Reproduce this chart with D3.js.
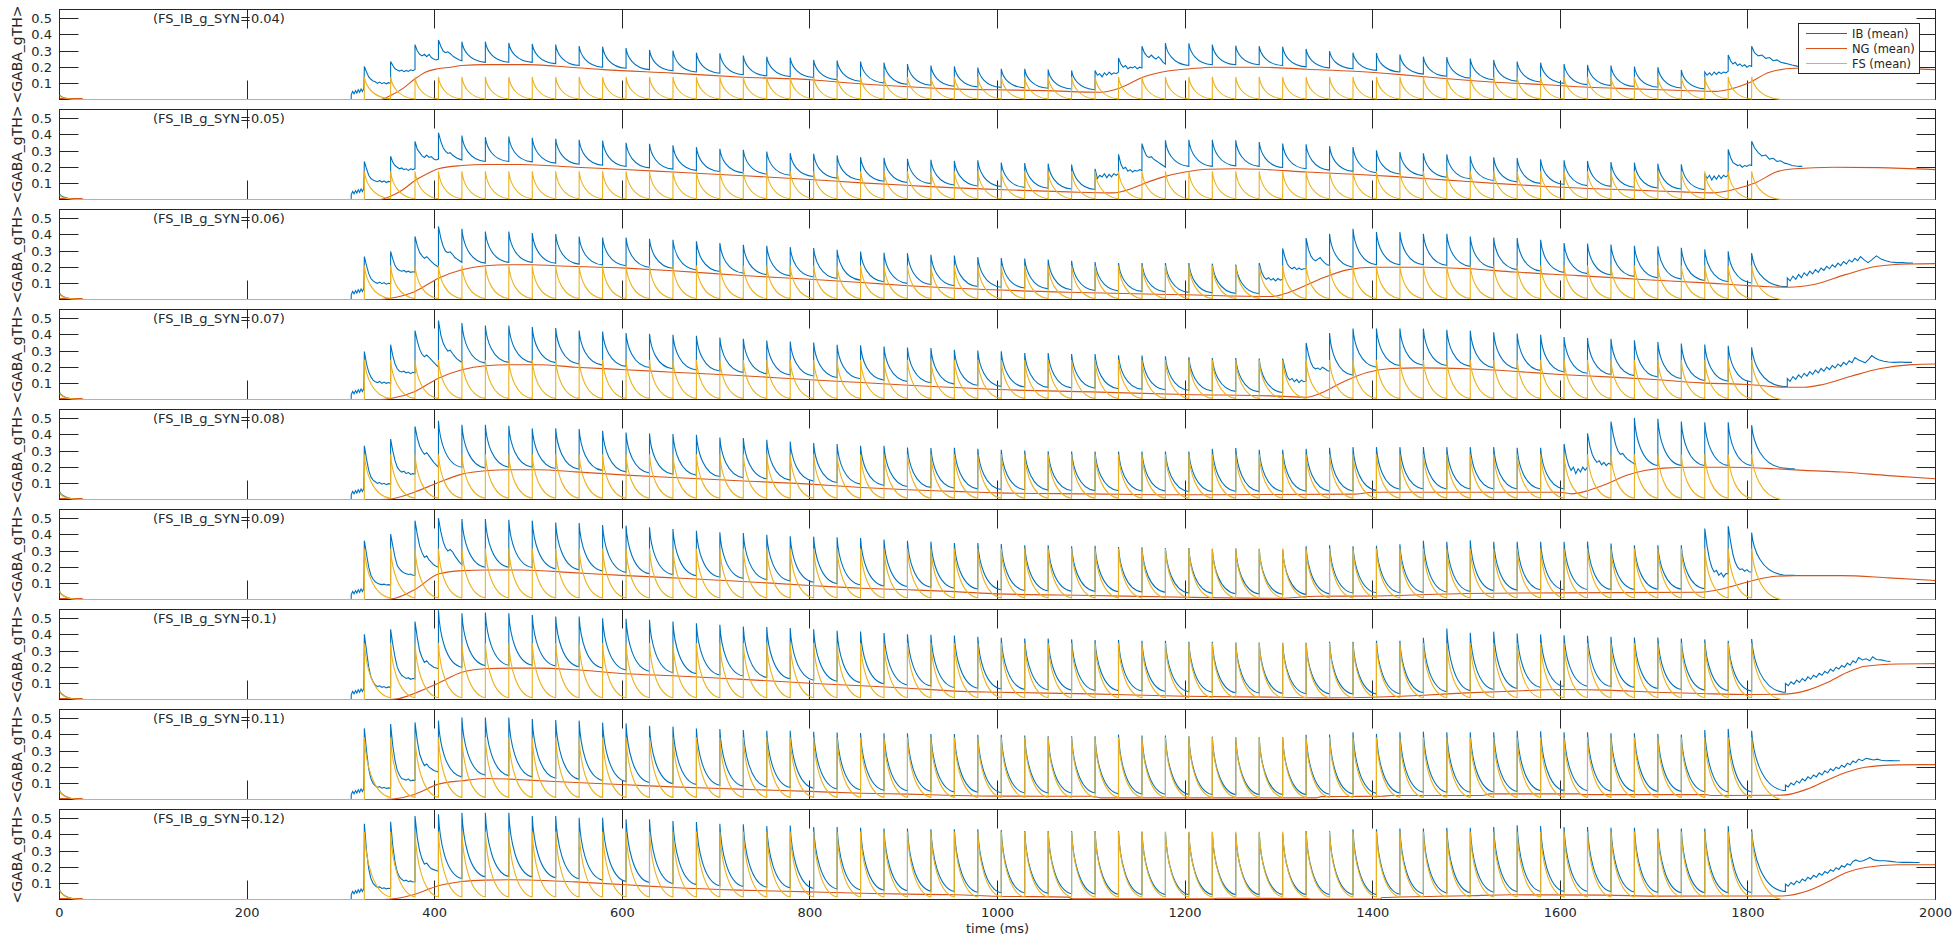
<!DOCTYPE html>
<html><head><meta charset="utf-8">
<script src="https://cdn.jsdelivr.net/npm/d3@7"></script>
<style>
body{margin:0;background:#fff;}
svg{display:block;}
text{font-family:"DejaVu Sans",sans-serif;fill:#262626;}
</style>
</head><body>
<svg id="chart" width="1954" height="943"></svg>
<script>
// ---------------- DATA ----------------
const panelTitles = ["(FS_IB_g_SYN=0.04)","(FS_IB_g_SYN=0.05)","(FS_IB_g_SYN=0.06)","(FS_IB_g_SYN=0.07)","(FS_IB_g_SYN=0.08)","(FS_IB_g_SYN=0.09)","(FS_IB_g_SYN=0.1)","(FS_IB_g_SYN=0.11)","(FS_IB_g_SYN=0.12)"];
const seriesNames = ["IB (mean)","NG (mean)","FS (mean)"];
const xTicks = [0,200,400,600,800,1000,1200,1400,1600,1800,2000];
const yTicks = [0.1,0.2,0.3,0.4,0.5];

// FS spike times (ms), shared by all panels
const spikeTimes = [325,353,379,404,429,454,479,504,529,554,579,604,629,654,679,704,729,754,779,804,829,854,879,904,929,954,979,1004,1029,1054,1079,1104,1129,1154,1179,1204,1229,1254,1279,1304,1329,1354,1379,1404,1429,1454,1479,1504,1529,1554,1579,1604,1629,1654,1679,1704,1729,1754,1779,1804];

// FS (mean): peak and trough per panel, initial value at t=0
const fsPeak   = [0.14,0.175,0.21,0.245,0.28,0.315,0.35,0.385,0.42];
const fsTrough = [0.004,0.005,0.006,0.007,0.008,0.01,0.011,0.013,0.015];
const fsInit   = [0.025,0.03,0.035,0.04,0.045,0.05,0.052,0.055,0.06];

// IB (mean): initial value, pre-onset flicker, peaks and troughs per spike
const ibInit = [0.03,0.035,0.04,0.045,0.05,0.052,0.055,0.058,0.062];
const ibPreOnset = [[311,0],[311,0.03],[312.5,0.05],[314,0.035],[315.5,0.055],[317,0.04],[318.5,0.06],[320,0.045],[321.5,0.065],[323,0.05],[324.5,0.07]];

const ibPeakP1 = [0.204,0.235,0.34,0.368,0.358,0.358,0.35,0.344,0.34,0.331,0.327,0.319,0.307,0.303,0.29,0.286,0.272,0.265,0.259,0.245,0.241,0.235,0.228,0.22,0.21,0.205,0.198,0.19,0.19,0.185,0.18,0.18,0.257,0.33,0.35,0.348,0.34,0.333,0.33,0.327,0.313,0.3,0.29,0.288,0.278,0.265,0.263,0.253,0.245,0.235,0.228,0.22,0.214,0.21,0.204,0.2,0.183,0.17,0.276,0.33];
const ibPeakP2 = [0.235,0.268,0.36,0.413,0.396,0.386,0.39,0.382,0.376,0.37,0.365,0.351,0.345,0.335,0.324,0.314,0.308,0.297,0.287,0.283,0.273,0.262,0.258,0.252,0.246,0.239,0.243,0.228,0.226,0.222,0.216,0.19,0.28,0.346,0.366,0.37,0.37,0.366,0.356,0.346,0.342,0.33,0.325,0.305,0.294,0.286,0.28,0.268,0.261,0.257,0.249,0.243,0.239,0.232,0.228,0.222,0.218,0.16,0.31,0.36];
const ibPeakP3 = [0.266,0.297,0.39,0.452,0.438,0.421,0.421,0.411,0.405,0.39,0.384,0.384,0.376,0.37,0.36,0.349,0.339,0.332,0.324,0.318,0.308,0.297,0.29,0.287,0.277,0.272,0.263,0.257,0.253,0.247,0.24,0.232,0.226,0.226,0.226,0.226,0.222,0.216,0.226,0.316,0.38,0.407,0.438,0.417,0.417,0.407,0.407,0.39,0.383,0.38,0.37,0.35,0.346,0.34,0.333,0.33,0.32,0.31,0.298,0.288];
const ibPeakP4 = [0.297,0.339,0.427,0.489,0.473,0.458,0.458,0.448,0.442,0.427,0.421,0.411,0.407,0.4,0.394,0.384,0.376,0.365,0.359,0.353,0.339,0.335,0.328,0.322,0.318,0.308,0.303,0.299,0.288,0.288,0.282,0.282,0.274,0.272,0.268,0.262,0.257,0.257,0.253,0.253,0.35,0.412,0.439,0.439,0.439,0.439,0.432,0.426,0.416,0.408,0.4,0.387,0.38,0.375,0.367,0.356,0.346,0.34,0.333,0.323];
const ibPeakP5 = [0.332,0.374,0.452,0.487,0.463,0.463,0.456,0.44,0.44,0.436,0.425,0.415,0.409,0.405,0.4,0.384,0.38,0.37,0.359,0.349,0.343,0.332,0.332,0.322,0.318,0.32,0.314,0.308,0.303,0.299,0.297,0.297,0.297,0.297,0.297,0.297,0.314,0.318,0.308,0.308,0.314,0.32,0.324,0.324,0.324,0.324,0.324,0.324,0.324,0.32,0.32,0.344,0.41,0.482,0.505,0.5,0.482,0.478,0.478,0.46];
const ibPeakP6 = [0.364,0.405,0.488,0.504,0.498,0.498,0.494,0.488,0.477,0.473,0.461,0.457,0.447,0.436,0.426,0.416,0.412,0.401,0.391,0.389,0.385,0.381,0.371,0.364,0.358,0.35,0.35,0.344,0.336,0.336,0.329,0.333,0.325,0.323,0.319,0.319,0.313,0.315,0.313,0.309,0.329,0.336,0.329,0.333,0.342,0.363,0.357,0.367,0.357,0.357,0.357,0.357,0.359,0.346,0.336,0.336,0.336,0.439,0.455,0.414];
const ibPeakP7 = [0.404,0.435,0.482,0.552,0.534,0.538,0.534,0.523,0.513,0.513,0.503,0.499,0.493,0.482,0.472,0.462,0.452,0.448,0.442,0.435,0.425,0.421,0.411,0.404,0.4,0.396,0.388,0.382,0.378,0.378,0.372,0.368,0.368,0.364,0.364,0.357,0.357,0.353,0.353,0.351,0.351,0.357,0.357,0.364,0.364,0.382,0.44,0.413,0.42,0.409,0.403,0.398,0.394,0.388,0.384,0.384,0.378,0.372,0.364,0.374];
const ibPeakP8 = [0.44,0.467,0.477,0.488,0.508,0.508,0.508,0.498,0.492,0.488,0.477,0.471,0.457,0.451,0.44,0.436,0.43,0.425,0.425,0.419,0.415,0.411,0.41,0.41,0.405,0.405,0.4,0.4,0.396,0.391,0.391,0.391,0.402,0.396,0.396,0.391,0.389,0.385,0.385,0.385,0.4,0.402,0.416,0.406,0.416,0.42,0.416,0.416,0.416,0.426,0.422,0.416,0.416,0.41,0.41,0.406,0.402,0.43,0.437,0.426];
const ibPeakP9 = [0.469,0.481,0.516,0.527,0.537,0.537,0.537,0.516,0.516,0.506,0.506,0.496,0.496,0.486,0.479,0.469,0.465,0.454,0.458,0.448,0.448,0.444,0.44,0.44,0.434,0.434,0.434,0.43,0.424,0.424,0.424,0.424,0.424,0.42,0.418,0.414,0.414,0.41,0.414,0.41,0.424,0.424,0.434,0.434,0.44,0.44,0.444,0.444,0.448,0.459,0.455,0.448,0.448,0.444,0.444,0.44,0.44,0.44,0.455,0.434];

const ibTroughP1 = [0.1,0.18,0.25,0.24,0.23,0.231,0.23,0.222,0.21,0.2,0.193,0.185,0.178,0.17,0.162,0.153,0.147,0.142,0.136,0.123,0.113,0.103,0.094,0.088,0.082,0.078,0.075,0.072,0.07,0.065,0.06,0.16,0.2,0.2,0.21,0.215,0.215,0.215,0.21,0.202,0.196,0.19,0.18,0.17,0.157,0.144,0.132,0.122,0.114,0.108,0.1,0.092,0.086,0.08,0.076,0.071,0.066,0.16,0.21,0.2];
const ibTroughP2 = [0.11,0.19,0.25,0.245,0.235,0.235,0.233,0.225,0.218,0.212,0.204,0.196,0.188,0.18,0.173,0.165,0.158,0.15,0.142,0.132,0.121,0.113,0.105,0.098,0.09,0.084,0.08,0.075,0.07,0.065,0.062,0.15,0.18,0.2,0.205,0.205,0.208,0.205,0.198,0.19,0.182,0.174,0.166,0.158,0.148,0.138,0.128,0.118,0.109,0.1,0.093,0.086,0.081,0.076,0.071,0.065,0.061,0.14,0.2,0.205];
const ibTroughP3 = [0.1,0.17,0.2,0.23,0.225,0.23,0.23,0.224,0.219,0.214,0.209,0.2,0.193,0.183,0.173,0.163,0.154,0.146,0.139,0.13,0.12,0.11,0.1,0.093,0.085,0.08,0.076,0.071,0.066,0.06,0.056,0.053,0.05,0.047,0.044,0.041,0.038,0.036,0.12,0.19,0.21,0.2,0.215,0.215,0.215,0.212,0.205,0.196,0.185,0.176,0.168,0.16,0.152,0.143,0.134,0.126,0.118,0.11,0.102,0.08];
const ibTroughP4 = [0.1,0.17,0.2,0.23,0.225,0.23,0.23,0.228,0.22,0.213,0.205,0.198,0.19,0.183,0.176,0.168,0.16,0.152,0.145,0.136,0.128,0.12,0.112,0.104,0.095,0.088,0.081,0.077,0.075,0.072,0.07,0.067,0.064,0.06,0.057,0.053,0.05,0.047,0.043,0.11,0.19,0.15,0.2,0.21,0.212,0.21,0.205,0.197,0.19,0.18,0.17,0.162,0.155,0.148,0.139,0.13,0.118,0.113,0.108,0.082];
const ibTroughP5 = [0.1,0.16,0.2,0.2,0.195,0.2,0.2,0.192,0.187,0.18,0.171,0.164,0.156,0.15,0.142,0.135,0.128,0.12,0.114,0.105,0.095,0.087,0.08,0.075,0.07,0.066,0.062,0.06,0.058,0.056,0.055,0.054,0.053,0.052,0.05,0.05,0.05,0.05,0.05,0.051,0.052,0.053,0.055,0.063,0.065,0.065,0.065,0.065,0.065,0.065,0.065,0.2,0.22,0.22,0.21,0.21,0.21,0.21,0.21,0.195];
const ibTroughP6 = [0.09,0.15,0.2,0.215,0.2,0.2,0.198,0.19,0.184,0.177,0.168,0.16,0.154,0.147,0.139,0.131,0.123,0.115,0.107,0.098,0.09,0.084,0.08,0.076,0.07,0.065,0.06,0.056,0.054,0.052,0.05,0.048,0.046,0.044,0.04,0.038,0.036,0.034,0.032,0.03,0.035,0.04,0.042,0.042,0.044,0.046,0.05,0.055,0.058,0.06,0.06,0.062,0.062,0.062,0.063,0.064,0.066,0.16,0.17,0.152];
const ibTroughP7 = [0.075,0.128,0.19,0.2,0.21,0.212,0.212,0.208,0.203,0.195,0.183,0.175,0.167,0.16,0.152,0.145,0.137,0.128,0.12,0.113,0.105,0.097,0.09,0.084,0.074,0.07,0.065,0.062,0.06,0.058,0.056,0.055,0.053,0.05,0.048,0.045,0.042,0.04,0.038,0.036,0.035,0.034,0.034,0.036,0.042,0.048,0.055,0.062,0.068,0.075,0.08,0.082,0.08,0.075,0.068,0.062,0.058,0.055,0.052,0.045];
const ibTroughP8 = [0.07,0.118,0.17,0.14,0.15,0.148,0.14,0.132,0.125,0.118,0.111,0.105,0.098,0.093,0.088,0.083,0.078,0.074,0.07,0.066,0.06,0.057,0.054,0.051,0.047,0.045,0.042,0.04,0.04,0.04,0.04,0.035,0.033,0.032,0.031,0.03,0.03,0.03,0.03,0.03,0.032,0.035,0.038,0.04,0.045,0.045,0.045,0.046,0.05,0.055,0.055,0.055,0.052,0.05,0.05,0.05,0.048,0.047,0.046,0.056];
const ibTroughP9 = [0.068,0.11,0.175,0.13,0.14,0.142,0.14,0.135,0.128,0.12,0.111,0.105,0.098,0.092,0.085,0.08,0.076,0.072,0.068,0.065,0.06,0.057,0.054,0.052,0.05,0.045,0.042,0.04,0.038,0.036,0.034,0.032,0.03,0.03,0.03,0.03,0.03,0.03,0.03,0.03,0.03,0.03,0.03,0.032,0.036,0.04,0.042,0.045,0.048,0.05,0.05,0.05,0.048,0.046,0.044,0.042,0.042,0.042,0.042,0.05];

// IB noisy (bursting) intervals: spike index -> values across that interval
const ibNoiseP1 = {0:[0.17,0.14,0.125,0.115,0.11,0.1,0.108,0.098,0.105,0.097,0.104,0.1],1:[0.21,0.19,0.182,0.176,0.182,0.172,0.18,0.174,0.184,0.178,0.186],2:[0.3,0.28,0.27,0.28,0.265,0.28,0.26,0.25,0.245,0.25],3:[0.33,0.3,0.29,0.295,0.285,0.27,0.26,0.252,0.245,0.24],31:[0.15,0.16,0.14,0.165,0.15,0.17,0.155,0.165,0.16,0.17],32:[0.22,0.2,0.21,0.19,0.2,0.195,0.205,0.19,0.2,0.195],33:[0.29,0.27,0.26,0.275,0.26,0.25,0.265,0.25,0.23,0.22],57:[0.15,0.165,0.15,0.17,0.155,0.17,0.16,0.17,0.165,0.175],58:[0.24,0.22,0.23,0.21,0.22,0.205,0.215,0.2,0.21,0.205]};
const ibNoiseP2 = {0:[0.19,0.15,0.13,0.12,0.115,0.11,0.118,0.108,0.115,0.105,0.112,0.11],1:[0.23,0.21,0.2,0.19,0.195,0.185,0.19,0.18,0.19,0.185,0.19],2:[0.31,0.29,0.27,0.26,0.275,0.26,0.265,0.25,0.245,0.25],3:[0.36,0.32,0.3,0.285,0.29,0.275,0.265,0.255,0.25,0.245],31:[0.13,0.15,0.14,0.16,0.135,0.155,0.14,0.16,0.15,0.16],32:[0.22,0.19,0.2,0.175,0.185,0.17,0.18,0.175,0.185,0.18],33:[0.3,0.27,0.26,0.265,0.25,0.24,0.23,0.22,0.21,0.2],57:[0.13,0.15,0.12,0.145,0.125,0.15,0.13,0.15,0.14,0.15],58:[0.26,0.23,0.22,0.21,0.215,0.2,0.21,0.205,0.215,0.21]};
const ibNoiseP3 = {0:[0.21,0.16,0.13,0.115,0.105,0.1,0.108,0.098,0.105,0.095,0.1,0.098],1:[0.25,0.21,0.19,0.18,0.175,0.18,0.17,0.175,0.168,0.172,0.17],2:[0.33,0.29,0.27,0.255,0.265,0.25,0.235,0.22,0.21,0.2],3:[0.38,0.33,0.3,0.29,0.295,0.28,0.26,0.25,0.24,0.23],38:[0.17,0.14,0.125,0.135,0.12,0.13,0.115,0.13,0.12,0.125],39:[0.26,0.22,0.2,0.19,0.2,0.185,0.195,0.185,0.19,0.19],40:[0.31,0.27,0.25,0.24,0.25,0.26,0.24,0.225,0.215,0.21]};
const ibNoiseP4 = {0:[0.22,0.17,0.14,0.12,0.11,0.105,0.112,0.1,0.108,0.1,0.105,0.1],1:[0.27,0.22,0.19,0.175,0.17,0.175,0.165,0.17,0.16,0.168,0.165],2:[0.36,0.31,0.28,0.265,0.275,0.26,0.245,0.23,0.215,0.2],3:[0.4,0.35,0.32,0.3,0.305,0.285,0.265,0.25,0.24,0.23],39:[0.19,0.14,0.12,0.13,0.11,0.125,0.105,0.12,0.11,0.115],40:[0.28,0.23,0.2,0.19,0.195,0.185,0.2,0.19,0.18,0.175]};
const ibNoiseP5 = {0:[0.25,0.18,0.14,0.12,0.11,0.1,0.105,0.095,0.1,0.092,0.098,0.095],1:[0.3,0.24,0.2,0.18,0.17,0.175,0.16,0.168,0.155,0.16,0.158],2:[0.38,0.33,0.3,0.28,0.29,0.27,0.25,0.23,0.215,0.2],51:[0.26,0.21,0.18,0.2,0.16,0.19,0.17,0.2,0.18,0.2],52:[0.33,0.28,0.25,0.23,0.24,0.215,0.23,0.21,0.225,0.215],53:[0.4,0.34,0.3,0.28,0.285,0.265,0.25,0.24,0.23,0.22]};
const ibNoiseP6 = {0:[0.28,0.2,0.15,0.125,0.11,0.1,0.095,0.092,0.095,0.09,0.092,0.09],1:[0.33,0.26,0.21,0.19,0.175,0.165,0.16,0.155,0.158,0.15,0.15],2:[0.4,0.33,0.29,0.26,0.27,0.245,0.23,0.215,0.205,0.2],3:[0.42,0.36,0.32,0.3,0.31,0.295,0.27,0.25,0.23,0.215],57:[0.33,0.25,0.2,0.17,0.18,0.15,0.165,0.14,0.16,0.16],58:[0.36,0.28,0.23,0.2,0.185,0.19,0.175,0.185,0.17,0.17]};
const ibNoiseP7 = {0:[0.3,0.2,0.14,0.11,0.09,0.08,0.085,0.075,0.08,0.072,0.078,0.075],1:[0.34,0.26,0.2,0.17,0.15,0.14,0.13,0.135,0.125,0.13,0.128],2:[0.38,0.3,0.26,0.23,0.24,0.22,0.21,0.2,0.195,0.19]};
const ibNoiseP8 = {0:[0.3,0.19,0.13,0.1,0.085,0.075,0.08,0.07,0.075,0.068,0.072,0.07],1:[0.33,0.24,0.18,0.15,0.13,0.125,0.12,0.128,0.115,0.12,0.118],2:[0.36,0.28,0.24,0.21,0.22,0.2,0.19,0.18,0.175,0.17]};
const ibNoiseP9 = {0:[0.3,0.19,0.13,0.1,0.085,0.075,0.078,0.068,0.072,0.066,0.07,0.068],1:[0.33,0.23,0.17,0.14,0.125,0.115,0.12,0.11,0.115,0.108,0.11],2:[0.38,0.3,0.25,0.22,0.225,0.205,0.19,0.185,0.18,0.175]};

// IB after last spike: value reached by smooth decay (null = noisy decay), then tail points
const ibLastTrough = [null,null,0.08,0.08,0.195,0.152,0.045,0.056,0.05];
const ibTailP1 = [[1807,0.29],[1811,0.27],[1815,0.275],[1819,0.255],[1823,0.26],[1827,0.24],[1831,0.245],[1835,0.23],[1839,0.225],[1843,0.22],[1847,0.213],[1851,0.208],[1855,0.203],[1859,0.2]];
const ibTailP2 = [[1807,0.32],[1811,0.29],[1815,0.27],[1819,0.275],[1823,0.25],[1827,0.255],[1831,0.235],[1835,0.24],[1839,0.225],[1843,0.22],[1847,0.21],[1851,0.207],[1855,0.205],[1858,0.205]];
const ibTailP3 = [[1842,0.08],[1842,0.134],[1845,0.115],[1848,0.145],[1851,0.125],[1854,0.155],[1857,0.135],[1860,0.165],[1863,0.148],[1866,0.175],[1869,0.158],[1872,0.185],[1875,0.168],[1878,0.195],[1881,0.18],[1884,0.205],[1887,0.19],[1890,0.215],[1893,0.2],[1896,0.225],[1899,0.21],[1902,0.235],[1905,0.22],[1908,0.245],[1911,0.232],[1914,0.255],[1917,0.24],[1920,0.265],[1924,0.245],[1928,0.228],[1932,0.245],[1937,0.27],[1942,0.25],[1947,0.24],[1952,0.232],[1958,0.228],[1965,0.228],[1970,0.225],[1976,0.226]];
const ibTailP4 = [[1842,0.08],[1842,0.13],[1845,0.112],[1848,0.142],[1851,0.125],[1854,0.152],[1857,0.135],[1860,0.162],[1863,0.145],[1866,0.172],[1869,0.155],[1872,0.182],[1875,0.165],[1878,0.192],[1881,0.175],[1884,0.2],[1887,0.185],[1890,0.21],[1893,0.195],[1896,0.22],[1899,0.205],[1902,0.23],[1905,0.215],[1908,0.24],[1911,0.228],[1914,0.26],[1918,0.245],[1922,0.235],[1925,0.227],[1929,0.25],[1932,0.272],[1936,0.255],[1940,0.245],[1945,0.237],[1950,0.232],[1956,0.23],[1962,0.232],[1968,0.23],[1975,0.23]];
const ibTailP5 = [[1844,0.192],[1850,0.19]];
const ibTailP6 = [[1844,0.15],[1850,0.15]];
const ibTailP7 = [[1840,0.045],[1840,0.1],[1843,0.085],[1846,0.11],[1849,0.095],[1852,0.12],[1855,0.105],[1858,0.13],[1861,0.115],[1864,0.14],[1867,0.125],[1870,0.15],[1873,0.138],[1876,0.162],[1879,0.15],[1882,0.175],[1885,0.162],[1888,0.188],[1891,0.175],[1894,0.2],[1897,0.188],[1900,0.21],[1903,0.2],[1906,0.225],[1909,0.212],[1912,0.24],[1915,0.228],[1918,0.26],[1922,0.245],[1926,0.252],[1930,0.24],[1933,0.265],[1937,0.248],[1942,0.245],[1947,0.238],[1952,0.235]];
const ibTailP8 = [[1840,0.056],[1840,0.09],[1843,0.078],[1846,0.102],[1849,0.09],[1852,0.115],[1855,0.102],[1858,0.128],[1861,0.115],[1864,0.14],[1867,0.128],[1870,0.152],[1873,0.14],[1876,0.165],[1879,0.152],[1882,0.178],[1885,0.165],[1888,0.19],[1891,0.178],[1894,0.2],[1897,0.19],[1900,0.212],[1903,0.2],[1906,0.225],[1909,0.215],[1912,0.238],[1915,0.228],[1918,0.25],[1922,0.24],[1926,0.255],[1930,0.25],[1934,0.245],[1938,0.25],[1942,0.243],[1947,0.24],[1952,0.241],[1957,0.24],[1962,0.24]];
const ibTailP9 = [[1840,0.05],[1840,0.095],[1843,0.082],[1846,0.105],[1849,0.092],[1852,0.115],[1855,0.103],[1858,0.127],[1861,0.115],[1864,0.138],[1867,0.126],[1870,0.15],[1873,0.138],[1876,0.162],[1879,0.15],[1882,0.173],[1885,0.162],[1888,0.185],[1891,0.175],[1894,0.197],[1897,0.186],[1900,0.21],[1903,0.2],[1906,0.222],[1909,0.212],[1912,0.235],[1915,0.245],[1919,0.235],[1923,0.24],[1927,0.25],[1930,0.26],[1934,0.245],[1940,0.24],[1946,0.24],[1952,0.236],[1958,0.232],[1965,0.23],[1972,0.23],[1978,0.229],[1983,0.229]];

// NG (mean): [time, value]
const ngP1 = [[0,0.006],[24,0.006],[25,0],[342,0],[353,0.025],[367,0.072],[379,0.128],[390,0.169],[403,0.19],[417,0.2],[429,0.21],[454,0.216],[498,0.216],[530,0.206],[580,0.185],[654,0.163],[729,0.138],[804,0.121],[832,0.107],[900,0.08],[950,0.066],[1000,0.06],[1050,0.055],[1110,0.045],[1130,0.07],[1155,0.138],[1180,0.175],[1205,0.19],[1230,0.2],[1280,0.2],[1330,0.187],[1380,0.175],[1430,0.154],[1480,0.128],[1530,0.107],[1580,0.093],[1630,0.076],[1680,0.066],[1730,0.056],[1765,0.05],[1782,0.065],[1800,0.1],[1823,0.169],[1850,0.193],[1900,0.196],[2000,0.185]];
const ngP2 = [[0,0.006],[24,0.006],[25,0],[342,0],[353,0.02],[366,0.06],[379,0.118],[392,0.16],[404,0.19],[429,0.21],[454,0.217],[493,0.217],[550,0.2],[602,0.186],[654,0.17],[724,0.149],[800,0.124],[855,0.103],[905,0.087],[955,0.072],[1000,0.062],[1075,0.047],[1123,0.041],[1143,0.068],[1157,0.1],[1177,0.14],[1200,0.17],[1225,0.187],[1252,0.19],[1280,0.187],[1330,0.17],[1380,0.156],[1430,0.14],[1480,0.12],[1530,0.1],[1580,0.082],[1630,0.068],[1680,0.058],[1730,0.047],[1762,0.041],[1789,0.068],[1810,0.109],[1830,0.17],[1850,0.19],[1891,0.2],[1938,0.197],[2000,0.185]];
const ngP3 = [[0,0.006],[24,0.006],[25,0],[340,0],[353,0.008],[379,0.05],[404,0.132],[429,0.184],[454,0.209],[479,0.215],[504,0.215],[529,0.209],[604,0.194],[654,0.178],[724,0.15],[800,0.125],[855,0.105],[905,0.085],[955,0.07],[1075,0.045],[1200,0.029],[1293,0.019],[1306,0.035],[1326,0.08],[1347,0.134],[1374,0.185],[1402,0.2],[1456,0.2],[1504,0.19],[1551,0.17],[1619,0.148],[1687,0.124],[1755,0.103],[1800,0.086],[1843,0.076],[1870,0.093],[1904,0.154],[1938,0.206],[1972,0.22],[2000,0.222]];
const ngP4 = [[0,0.006],[24,0.006],[25,0],[342,0],[353,0.006],[379,0.05],[404,0.132],[429,0.184],[454,0.209],[479,0.215],[510,0.215],[550,0.2],[604,0.184],[654,0.169],[724,0.149],[800,0.122],[855,0.105],[905,0.088],[955,0.074],[1000,0.062],[1100,0.047],[1200,0.031],[1300,0.021],[1330,0.014],[1345,0.04],[1370,0.113],[1395,0.169],[1420,0.192],[1450,0.196],[1500,0.19],[1550,0.175],[1600,0.155],[1650,0.14],[1700,0.124],[1750,0.103],[1800,0.093],[1840,0.076],[1860,0.076],[1880,0.093],[1910,0.144],[1940,0.19],[1975,0.216],[2000,0.22]];
const ngP5 = [[0,0.006],[24,0.006],[25,0],[342,0],[355,0.005],[379,0.047],[404,0.105],[429,0.157],[454,0.178],[479,0.184],[510,0.184],[550,0.171],[604,0.151],[654,0.136],[724,0.116],[800,0.095],[855,0.074],[905,0.06],[955,0.05],[1000,0.041],[1100,0.035],[1200,0.029],[1300,0.031],[1380,0.033],[1400,0.045],[1600,0.045],[1612,0.035],[1630,0.056],[1650,0.097],[1670,0.148],[1690,0.179],[1710,0.194],[1740,0.2],[1780,0.2],[1830,0.19],[1860,0.18],[1900,0.17],[1950,0.148],[2000,0.128]];
const ngP6 = [[0,0.006],[24,0.006],[25,0],[345,0],[358,0.008],[379,0.062],[404,0.158],[429,0.179],[454,0.183],[493,0.183],[550,0.165],[604,0.148],[654,0.134],[724,0.113],[800,0.087],[855,0.07],[905,0.06],[955,0.049],[1000,0.035],[1100,0.025],[1200,0.014],[1300,0.008],[1340,0.02],[1400,0.022],[1500,0.037],[1600,0.041],[1750,0.045],[1770,0.062],[1790,0.093],[1810,0.124],[1830,0.144],[1850,0.148],[1900,0.148],[1950,0.134],[2000,0.117]];
const ngP7 = [[0,0.006],[24,0.006],[25,0],[350,0],[362,0.006],[379,0.039],[404,0.101],[429,0.169],[454,0.19],[479,0.194],[510,0.194],[550,0.184],[604,0.159],[654,0.147],[724,0.126],[800,0.101],[855,0.085],[905,0.07],[955,0.052],[1000,0.045],[1100,0.035],[1200,0.02],[1300,0.014],[1350,0.01],[1400,0.014],[1430,0.02],[1450,0.025],[1500,0.041],[1550,0.052],[1600,0.062],[1650,0.058],[1700,0.045],[1750,0.037],[1800,0.031],[1837,0.033],[1864,0.058],[1884,0.103],[1905,0.165],[1925,0.206],[1960,0.22],[2000,0.222]];
const ngP8 = [[0,0.006],[24,0.006],[25,0],[345,0],[358,0.005],[379,0.033],[404,0.095],[429,0.116],[454,0.13],[479,0.126],[500,0.12],[550,0.105],[604,0.091],[654,0.078],[724,0.064],[800,0.05],[855,0.039],[905,0.033],[955,0.025],[1000,0.021],[1100,0.02],[1110,0.01],[1340,0.01],[1345,0.018],[1410,0.02],[1420,0.025],[1517,0.025],[1525,0.035],[1620,0.035],[1625,0.03],[1755,0.03],[1760,0.025],[1837,0.027],[1864,0.066],[1884,0.118],[1905,0.169],[1925,0.2],[1960,0.214],[2000,0.216]];
const ngP9 = [[0,0.006],[24,0.006],[25,0],[345,0],[358,0.006],[379,0.033],[404,0.085],[429,0.111],[454,0.12],[479,0.122],[500,0.121],[550,0.109],[604,0.091],[654,0.074],[724,0.058],[800,0.047],[855,0.039],[905,0.033],[955,0.029],[1000,0.02],[1075,0.015],[1080,0.004],[1230,0.004],[1235,0.008],[1330,0.006],[1335,0.003],[1408,0.003],[1410,0.012],[1500,0.023],[1550,0.029],[1650,0.027],[1700,0.021],[1837,0.022],[1864,0.054],[1884,0.105],[1905,0.167],[1925,0.198],[1960,0.215],[2000,0.215]];

// ---------------- ASSEMBLY ----------------
const ibPeaks = [ibPeakP1,ibPeakP2,ibPeakP3,ibPeakP4,ibPeakP5,ibPeakP6,ibPeakP7,ibPeakP8,ibPeakP9];
const ibTroughs = [ibTroughP1,ibTroughP2,ibTroughP3,ibTroughP4,ibTroughP5,ibTroughP6,ibTroughP7,ibTroughP8,ibTroughP9];
const ibNoise = [ibNoiseP1,ibNoiseP2,ibNoiseP3,ibNoiseP4,ibNoiseP5,ibNoiseP6,ibNoiseP7,ibNoiseP8,ibNoiseP9];
const ibTails = [ibTailP1,ibTailP2,ibTailP3,ibTailP4,ibTailP5,ibTailP6,ibTailP7,ibTailP8,ibTailP9];
const ngSeries = [ngP1,ngP2,ngP3,ngP4,ngP5,ngP6,ngP7,ngP8,ngP9];

const COLORS = {IB:"#0072BD", NG:"#D95319", FS:"#EDB120"};
const AX = "#262626";
const X0 = 59.5, X1 = 1935.5, TOP = 9.5, PH = 90, STEP = 100, TICK = 19;
const YMAX = 0.557;

const svg = d3.select("#chart");
const defs = svg.append("defs");
const x = d3.scaleLinear().domain([0,2000]).range([X0,X1]);

function decay(p, x0, y0, x1, y1){
  const w = x1 - x0, d = y0 - y1;
  p.bezierCurveTo(x0 + 0.05*w, y1 + 0.6*d, x0 + 0.3*w, y1 + 0.05*d, x1, y1);
}

for (let i = 0; i < 9; i++){
  const top = TOP + i*STEP, bot = top + PH;
  const y = d3.scaleLinear().domain([0,YMAX]).range([bot, top]);
  const g = svg.append("g");

  defs.append("clipPath").attr("id","cp"+i).append("rect")
    .attr("x", X0).attr("y", top - 0.5).attr("width", X1 - X0).attr("height", PH + 2);

  // axes box
  g.append("rect").attr("x",X0).attr("y",top).attr("width",X1-X0).attr("height",PH)
    .attr("fill","none").attr("stroke",AX).attr("stroke-width",1);

  // x ticks (inner, top and bottom)
  xTicks.forEach(v => {
    const xx = Math.round(x(v) - 0.5) + 0.5;
    g.append("line").attr("x1",xx).attr("x2",xx).attr("y1",bot).attr("y2",bot-TICK).attr("stroke",AX);
    g.append("line").attr("x1",xx).attr("x2",xx).attr("y1",top).attr("y2",top+TICK).attr("stroke",AX);
  });
  // y ticks (inner, left and right) and labels
  yTicks.forEach(v => {
    const yy = Math.round(y(v) - 0.5) + 0.5;
    g.append("line").attr("x1",X0).attr("x2",X0+TICK).attr("y1",yy).attr("y2",yy).attr("stroke",AX);
    g.append("line").attr("x1",X1).attr("x2",X1-TICK).attr("y1",yy).attr("y2",yy).attr("stroke",AX);
    g.append("text").attr("x",52).attr("y",yy).attr("text-anchor","end").attr("dominant-baseline","central")
      .attr("font-size","13px").text(String(v));
  });

  // y label
  g.append("text").attr("transform",`translate(22,${top + PH/2}) rotate(-90)`)
    .attr("text-anchor","middle").attr("font-size","14px").text("<GABA_gTH>");

  const lines = g.append("g").attr("clip-path",`url(#cp${i})`).attr("fill","none").attr("stroke-width",1.1);

  // IB path
  const pk = ibPeaks[i], tr = ibTroughs[i], nz = ibNoise[i];
  const pIB = d3.path();
  pIB.moveTo(x(0), y(ibInit[i]));
  decay(pIB, x(0), y(ibInit[i]), x(22), y(0));
  ibPreOnset.forEach(([t,v]) => pIB.lineTo(x(t), y(v)));
  spikeTimes.forEach((t,k) => {
    pIB.lineTo(x(t), y(pk[k]));
    if (k < spikeTimes.length - 1){
      const tn = spikeTimes[k+1];
      if (nz[k]){
        const vals = nz[k];
        vals.forEach((v,j) => pIB.lineTo(x(t + (j+1)*(tn-t)/vals.length), y(v)));
      } else {
        decay(pIB, x(t), y(pk[k]), x(tn), y(tr[k]));
      }
    } else {
      if (ibLastTrough[i] !== null) decay(pIB, x(t), y(pk[k]), x(1838), y(ibLastTrough[i]));
      ibTails[i].forEach(([tt,v]) => pIB.lineTo(x(tt), y(v)));
    }
  });
  lines.append("path").attr("d", pIB.toString()).attr("stroke", COLORS.IB);

  // NG path
  const ngLine = d3.line().x(d => x(d[0])).y(d => y(d[1])).curve(d3.curveMonotoneX);
  lines.append("path").attr("d", ngLine(ngSeries[i])).attr("stroke", COLORS.NG);

  // FS path
  const pFS = d3.path();
  pFS.moveTo(x(0), y(fsInit[i]));
  decay(pFS, x(0), y(fsInit[i]), x(22), y(0));
  pFS.lineTo(x(spikeTimes[0]), y(0));
  spikeTimes.forEach((t,k) => {
    pFS.lineTo(x(t), y(fsPeak[i]));
    if (k < spikeTimes.length - 1) decay(pFS, x(t), y(fsPeak[i]), x(spikeTimes[k+1]), y(fsTrough[i]));
    else { decay(pFS, x(t), y(fsPeak[i]), x(1836), y(0)); pFS.lineTo(x(2000), y(0)); }
  });
  lines.append("path").attr("d", pFS.toString()).attr("stroke", COLORS.FS);

  // panel title
  g.append("text").attr("x",153).attr("y",top + 13).attr("font-size","13px").text(panelTitles[i]);

  // x tick labels on last panel
  if (i === 8){
    xTicks.forEach(v => {
      g.append("text").attr("x",x(v)).attr("y",bot + 17).attr("text-anchor","middle")
        .attr("font-size","13px").text(String(v));
    });
    g.append("text").attr("x",(X0+X1)/2).attr("y",bot + 33).attr("text-anchor","middle")
      .attr("font-size","13px").text("time (ms)");
  }

  // legend on first panel
  if (i === 0){
    const lg = g.append("g");
    lg.append("rect").attr("x",1798.5).attr("y",23.5).attr("width",121).attr("height",50)
      .attr("fill","#fff").attr("stroke",AX);
    const cols = [COLORS.IB, COLORS.NG, COLORS.FS];
    seriesNames.forEach((nm,k) => {
      const yy = 33.5 + k*15;
      lg.append("line").attr("x1",1806).attr("x2",1847).attr("y1",yy).attr("y2",yy).attr("stroke",cols[k]);
      lg.append("text").attr("x",1852).attr("y",yy).attr("dominant-baseline","central")
        .attr("font-size","11.5px").text(nm);
    });
  }
}
</script>
</body></html>
